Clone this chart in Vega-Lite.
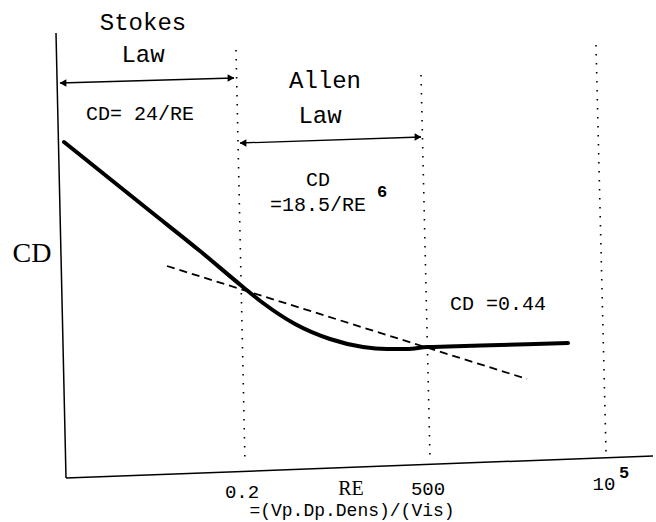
{
  "$schema": "https://vega.github.io/schema/vega-lite/v6.json",
  "width": 656,
  "height": 522,
  "padding": 0,
  "autosize": {"type": "none"},
  "background": "white",
  "config": {"view": {"stroke": null}},
  "datasets": {
    "axes": [
      {"x": 56, "y": 33, "x2": 66, "y2": 478},
      {"x": 66, "y": 478, "x2": 653, "y2": 456}
    ],
    "shafts": [
      {"x": 60, "y": 83, "x2": 234, "y2": 78},
      {"x": 240, "y": 143, "x2": 421, "y2": 137}
    ],
    "dotted": [
      {"x": 236, "y": 50, "x2": 245, "y2": 463},
      {"x": 421, "y": 75, "x2": 430, "y2": 458},
      {"x": 596, "y": 45, "x2": 606, "y2": 452}
    ],
    "dashed": [
      {"x": 167, "y": 266, "x2": 527, "y2": 379}
    ],
    "curve": [
      {"x": 64, "y": 142},
      {"x": 150, "y": 211},
      {"x": 200, "y": 251},
      {"x": 243, "y": 287},
      {"x": 263, "y": 303},
      {"x": 295, "y": 324},
      {"x": 330, "y": 339},
      {"x": 363, "y": 347},
      {"x": 387, "y": 349},
      {"x": 407, "y": 349},
      {"x": 427, "y": 347},
      {"x": 448, "y": 346.5},
      {"x": 500, "y": 345},
      {"x": 568, "y": 343}
    ],
    "arrows": [
      {"x": 63, "y": 83, "dir": "left"},
      {"x": 231, "y": 78, "dir": "right"},
      {"x": 243, "y": 143, "dir": "left"},
      {"x": 418, "y": 137, "dir": "right"}
    ],
    "titles": [
      {"x": 143, "y": 30, "label": "Stokes"},
      {"x": 143, "y": 62, "label": "Law"},
      {"x": 325, "y": 88, "label": "Allen"},
      {"x": 320, "y": 123, "label": "Law"}
    ],
    "formulas": [
      {"x": 140, "y": 120, "label": "CD= 24/RE"},
      {"x": 318, "y": 186, "label": "CD"},
      {"x": 318, "y": 211, "label": "=18.5/RE"},
      {"x": 498, "y": 310, "label": "CD =0.44"}
    ],
    "supers": [
      {"x": 382, "y": 197, "label": "6"},
      {"x": 624, "y": 478, "label": "5"}
    ],
    "ticks": [
      {"x": 242, "y": 498, "label": "0.2"},
      {"x": 428, "y": 495, "label": "500"},
      {"x": 604, "y": 490, "label": "10"}
    ],
    "serif": [
      {"x": 32, "y": 262, "label": "CD", "kind": "axis"},
      {"x": 351, "y": 495, "label": "RE", "kind": "x"}
    ],
    "subtitle": [
      {"x": 352, "y": 516, "label": "=(Vp.Dp.Dens)/(Vis)"}
    ]
  },
  "encoding": {
    "x": {"field": "x", "type": "quantitative", "scale": {"domain": [0, 656], "nice": false, "zero": false}, "axis": null},
    "y": {"field": "y", "type": "quantitative", "scale": {"domain": [0, 522], "nice": false, "zero": false, "reverse": true}, "axis": null}
  },
  "layer": [
    {
      "data": {"name": "axes"},
      "mark": {"type": "rule", "color": "black", "strokeWidth": 1.5},
      "encoding": {"x2": {"field": "x2"}, "y2": {"field": "y2"}}
    },
    {
      "data": {"name": "shafts"},
      "mark": {"type": "rule", "color": "black", "strokeWidth": 1.3},
      "encoding": {"x2": {"field": "x2"}, "y2": {"field": "y2"}}
    },
    {
      "data": {"name": "dotted"},
      "mark": {"type": "rule", "color": "black", "strokeWidth": 1.6, "strokeDash": [1.6, 7.4]},
      "encoding": {"x2": {"field": "x2"}, "y2": {"field": "y2"}}
    },
    {
      "data": {"name": "dashed"},
      "mark": {"type": "rule", "color": "black", "strokeWidth": 1.8, "strokeDash": [8, 5]},
      "encoding": {"x2": {"field": "x2"}, "y2": {"field": "y2"}}
    },
    {
      "data": {"name": "curve"},
      "mark": {"type": "line", "color": "black", "strokeWidth": 4, "interpolate": "monotone", "strokeCap": "round"},
      "encoding": {}
    },
    {
      "data": {"name": "arrows"},
      "mark": {"type": "point", "filled": true, "color": "black", "size": 60, "opacity": 1},
      "encoding": {
        "shape": {"field": "dir", "type": "nominal", "scale": {"domain": ["left", "right"], "range": ["triangle-left", "triangle-right"]}, "legend": null}
      }
    },
    {
      "data": {"name": "titles"},
      "mark": {"type": "text", "font": "Liberation Mono", "fontSize": 24, "align": "center", "baseline": "alphabetic", "color": "black"},
      "encoding": {"text": {"field": "label"}}
    },
    {
      "data": {"name": "formulas"},
      "mark": {"type": "text", "font": "Liberation Mono", "fontSize": 20, "align": "center", "baseline": "alphabetic", "color": "black"},
      "encoding": {"text": {"field": "label"}}
    },
    {
      "data": {"name": "supers"},
      "mark": {"type": "text", "font": "Liberation Mono", "fontSize": 17, "fontWeight": "bold", "align": "center", "baseline": "alphabetic", "color": "black"},
      "encoding": {"text": {"field": "label"}}
    },
    {
      "data": {"name": "ticks"},
      "mark": {"type": "text", "font": "Liberation Mono", "fontSize": 19, "align": "center", "baseline": "alphabetic", "color": "black"},
      "encoding": {"text": {"field": "label"}}
    },
    {
      "data": {"name": "serif"},
      "transform": [{"filter": "datum.kind === 'axis'"}],
      "mark": {"type": "text", "font": "Liberation Serif", "fontSize": 28, "align": "center", "baseline": "alphabetic", "color": "black"},
      "encoding": {"text": {"field": "label"}}
    },
    {
      "data": {"name": "serif"},
      "transform": [{"filter": "datum.kind === 'x'"}],
      "mark": {"type": "text", "font": "Liberation Serif", "fontSize": 20, "align": "center", "baseline": "alphabetic", "color": "black"},
      "encoding": {"text": {"field": "label"}}
    },
    {
      "data": {"name": "subtitle"},
      "mark": {"type": "text", "font": "Liberation Mono", "fontSize": 18, "align": "center", "baseline": "alphabetic", "color": "black"},
      "encoding": {"text": {"field": "label"}}
    }
  ]
}
